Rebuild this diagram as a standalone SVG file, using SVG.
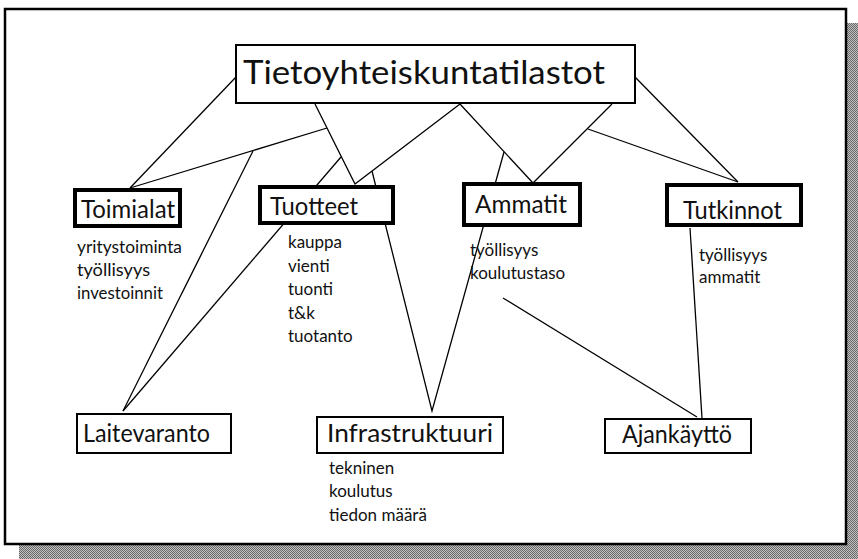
<svg xmlns="http://www.w3.org/2000/svg" width="858" height="559" viewBox="0 0 858 559">
<style>
.frame{fill:#fff;stroke:#000;stroke-width:2.5}
.box{fill:#fff;stroke:#000;stroke-width:2}
.tbox{fill:#fff;stroke:#000;stroke-width:4}
.lbl{font-family:Lato,"Noto Sans",sans-serif;fill:#111;font-size:25px}
.sub{font-family:Lato,"Noto Sans",sans-serif;fill:#111;font-size:17px}
.title{font-family:Lato,"Noto Sans",sans-serif;fill:#111;font-size:33px}
#connectors line,#connectors polyline{stroke:#000;stroke-width:1.3;fill:none}
</style>
<defs>
<pattern id="dither" width="2" height="2" patternUnits="userSpaceOnUse">
<rect width="2" height="2" fill="#c4c4c4"/>
<rect width="1" height="1" fill="#666"/>
<rect x="1" y="1" width="1" height="1" fill="#666"/>
</pattern>
</defs>
<rect width="858" height="559" fill="#fff"/>
<g id="frame">
<rect x="19" y="23" width="841" height="536" fill="url(#dither)"/>
<rect class="frame" x="5" y="9" width="841" height="535"/>
</g>
<g id="connectors">
<line x1="236" y1="77" x2="130" y2="188"/>
<line x1="327" y1="128" x2="130" y2="188"/>
<line x1="253" y1="151" x2="123" y2="411"/>
<polyline points="315,104 355,184 460,104"/>
<line x1="341" y1="157" x2="123" y2="411"/>
<polyline points="372,171 432,411 504,152"/>
<polyline points="460,104 533,183 612,104"/>
<line x1="588" y1="129" x2="738" y2="182"/>
<line x1="635" y1="77" x2="738" y2="182"/>
<line x1="690" y1="228" x2="702" y2="418"/>
<line x1="503" y1="298" x2="697" y2="417"/>
</g>
<g id="title">
<rect class="box" x="236" y="45" width="399" height="58"/>
<text class="title" x="243" y="84" textLength="362" lengthAdjust="spacingAndGlyphs">Tietoyhteiskuntatilastot</text>
</g>
<g id="toimialat">
<rect class="tbox" x="75" y="190" width="105" height="36"/>
<text class="lbl" x="81" y="218" textLength="94" lengthAdjust="spacingAndGlyphs">Toimialat</text>
<text class="sub" x="77" y="253" textLength="105" lengthAdjust="spacingAndGlyphs">yritystoiminta</text>
<text class="sub" x="77" y="276" textLength="73" lengthAdjust="spacingAndGlyphs">työllisyys</text>
<text class="sub" x="77" y="299" textLength="86" lengthAdjust="spacingAndGlyphs">investoinnit</text>
</g>
<g id="tuotteet">
<rect class="tbox" x="260" y="187" width="133" height="36"/>
<text class="lbl" x="270" y="215" textLength="88" lengthAdjust="spacingAndGlyphs">Tuotteet</text>
<text class="sub" x="288" y="248">kauppa</text>
<text class="sub" x="288" y="272">vienti</text>
<text class="sub" x="288" y="295">tuonti</text>
<text class="sub" x="288" y="319">t&amp;k</text>
<text class="sub" x="288" y="342">tuotanto</text>
</g>
<g id="ammatit">
<rect class="tbox" x="464" y="184" width="116" height="41"/>
<text class="lbl" x="475" y="213" textLength="92" lengthAdjust="spacingAndGlyphs">Ammatit</text>
<text class="sub" x="470" y="256">työllisyys</text>
<text class="sub" x="470" y="279">koulutustaso</text>
</g>
<g id="tutkinnot">
<rect class="tbox" x="667" y="185" width="134" height="40"/>
<text class="lbl" x="683" y="219" textLength="99" lengthAdjust="spacingAndGlyphs">Tutkinnot</text>
<text class="sub" x="699" y="261">työllisyys</text>
<text class="sub" x="699" y="283">ammatit</text>
</g>
<g id="laitevaranto">
<rect class="box" x="77" y="414" width="154" height="39"/>
<text class="lbl" x="83" y="442" textLength="127" lengthAdjust="spacingAndGlyphs">Laitevaranto</text>
</g>
<g id="infrastruktuuri">
<rect class="box" x="317" y="417" width="186" height="36"/>
<text class="lbl" x="327" y="442" textLength="166" lengthAdjust="spacingAndGlyphs">Infrastruktuuri</text>
<text class="sub" x="329" y="474">tekninen</text>
<text class="sub" x="329" y="497">koulutus</text>
<text class="sub" x="329" y="521">tiedon määrä</text>
</g>
<g id="ajankaytto">
<rect class="box" x="605" y="419" width="146" height="34"/>
<text class="lbl" x="622" y="443" textLength="110" lengthAdjust="spacingAndGlyphs">Ajankäyttö</text>
</g>
</svg>
